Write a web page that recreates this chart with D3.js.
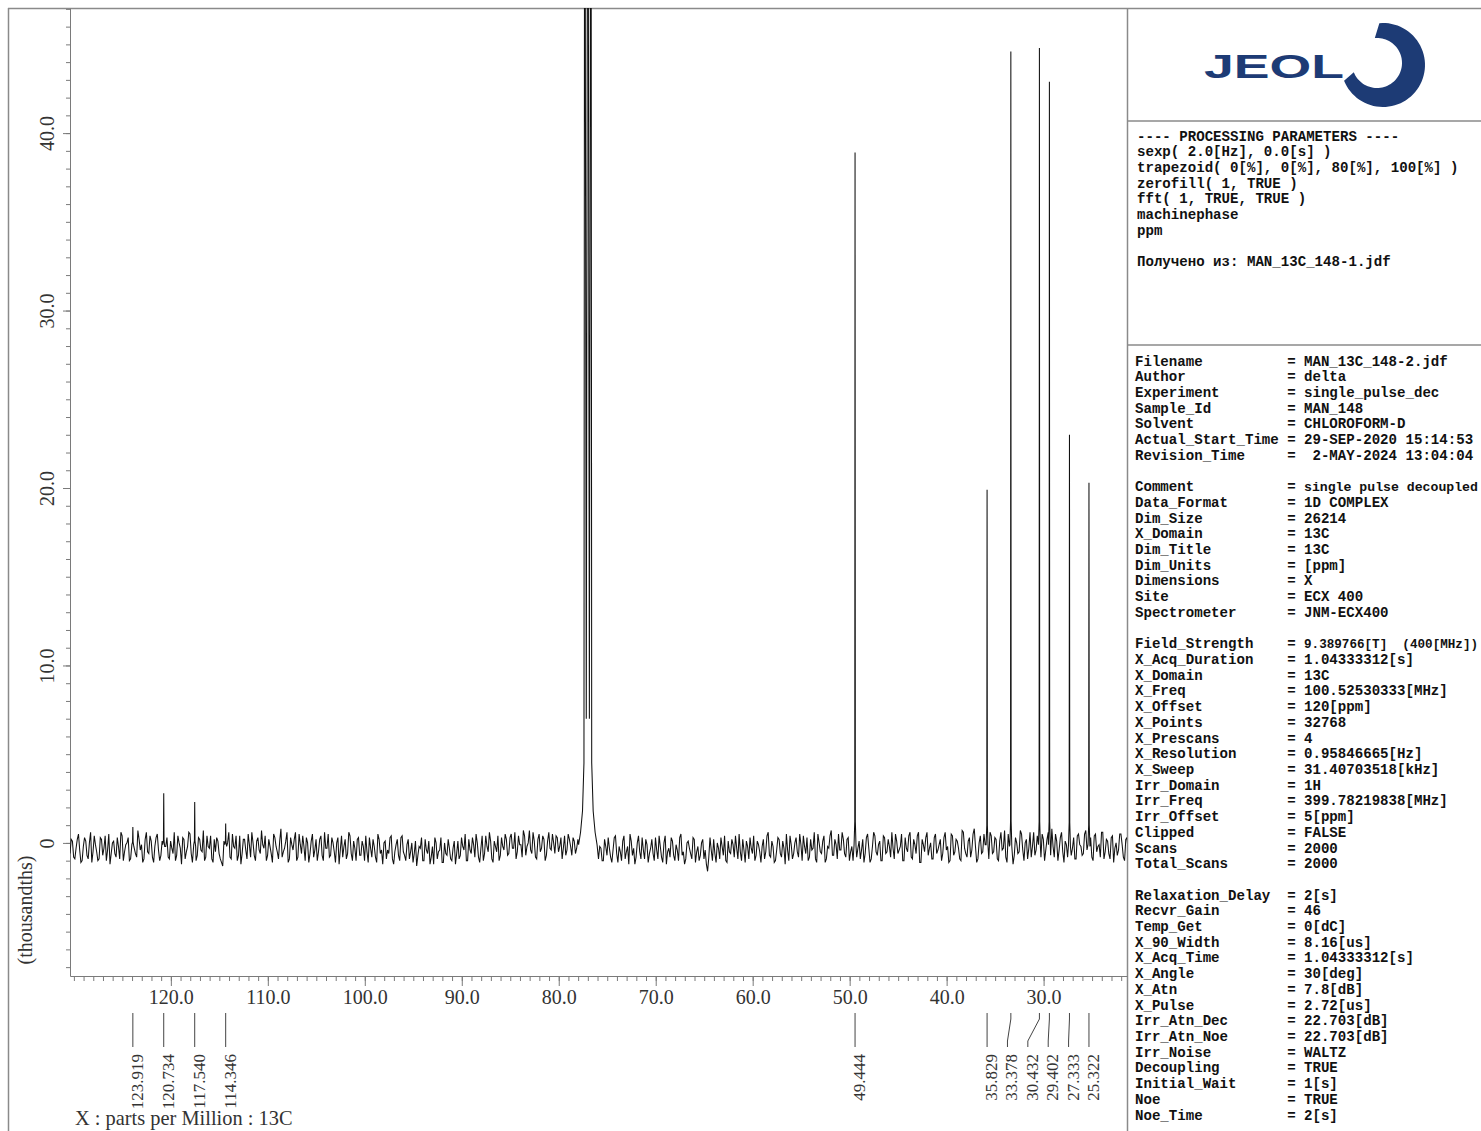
<!DOCTYPE html>
<html><head><meta charset="utf-8">
<script src="https://cdn.jsdelivr.net/npm/d3@7"></script>
<style>body{margin:0;background:#fff} svg{display:block}</style>
</head><body>
<svg id="c" width="1481" height="1131"></svg>
<script>
// ---------- DATA ----------
const xTickValues = [120,110,100,90,80,70,60,50,40,30];
const xTickLabels = ["120.0","110.0","100.0","90.0","80.0","70.0","60.0","50.0","40.0","30.0"];
const yTickValues = [0,10,20,30,40];
const yTickLabels = ["0","10.0","20.0","30.0","40.0"];

const peakPpm     = [123.919,120.734,117.540,114.346,49.444,35.829,33.378,30.432,29.402,27.333,25.322];
const peakLabels  = ["123.919","120.734","117.540","114.346","49.444","35.829","33.378","30.432","29.402","27.333","25.322"];
const peakHeights = [0.9,2.8,2.3,1.1,38.9,19.9,44.6,44.8,42.9,23.0,20.3];

// CDCl3 triplet (off scale) with broad base
const solventPpm     = [77.95,77.75,77.55,77.40,77.32,77.16,77.00,76.84,76.68,76.60,76.45,76.25,76.05];
const solventHeights = [-0.1,0.6,1.8,4.5,70,7.0,70,7.0,70,4.5,1.8,0.6,-0.1];

// baseline noise, sampled on two interleaved ppm grids
const noiseStartPpm = 130.4, noiseStepPpm = 0.25;
const noiseA = [
-0.6,0.1,-0.9,0.2,-0.4,-1.0,0.3,-0.7,0.0,-1.1,0.4,-0.5,-0.9,0.2,-0.3,-1.0,0.5,-0.6,0.1,-0.8,
-0.2,0.6,-1.0,-0.1,0.3,-0.9,0.9,-0.6,0.7,-0.4,-1.1,0.2,-0.5,0.4,-0.8,-0.2,0.5,-1.0,0.1,-0.4,
0.3,-0.9,-0.3,0.6,-0.7,0.0,-1.2,0.2,-0.5,0.6,-0.6,-0.1,-1.0,0.3,-0.4,0.7,-0.8,-0.2,0.4,-1.1,
-0.5,0.1,-0.9,-1.3,-0.4,0.0,-0.8,0.5,-0.3,-1.0,0.4,-0.6,0.2,-0.9,-0.1,0.6,-0.7,0.1,-0.4,0.7,
-0.3,-1.0,0.2,-0.6,0.5,-0.2,-0.9,0.8,-0.5,0.1,-1.1,0.3,-0.4,0.6,-0.8,-0.1,0.4,-1.0,0.0,-0.6,
0.5,-0.4,-1.0,0.2,-0.7,0.6,-0.3,-0.8,0.3,-0.5,0.0,-1.2,0.4,-0.2,-0.9,0.6,-0.6,0.1,-1.0,0.3,
-0.7,-0.2,0.4,-1.1,-0.3,0.2,-0.8,0.5,-0.6,-1.2,0.1,-0.4,0.3,-0.9,-0.5,0.2,-1.0,0.4,-0.7,-0.1,
-0.9,0.0,-0.6,-1.3,-0.2,0.3,-1.0,-0.4,0.1,-0.8,-1.2,0.0,-0.5,0.3,-1.1,-0.6,0.2,-0.9,-0.3,-1.2,
0.1,-0.7,-0.2,0.5,-1.0,-0.4,0.3,-0.8,0.0,-1.1,0.4,-0.6,-0.2,0.6,-0.9,0.1,-0.5,-1.0,0.3,-0.4,
0.2,-0.6,0.5,-0.3,-0.9,0.4,-0.1,0.7,-0.7,0.0,-0.4,0.6,-0.8,0.2,-0.5,0.4,-1.0,0.1,-0.3,0.5,
-0.6,0.3,-0.2,-0.9,0.4,-0.4,0.2,-0.7,0.1,-0.3,0,0,0,0,0,0,0,0,-0.9,-0.3,
-1.0,-0.2,0.3,-0.8,-0.4,0.4,-1.1,-0.5,0.1,-0.9,-0.2,0.5,-0.7,-1.2,0.0,-0.5,0.3,-0.9,-0.1,-0.6,
0.2,-1.0,-0.4,0.4,-0.8,0.0,-1.2,-0.3,0.3,-0.7,-0.1,-1.0,0.5,-0.5,-0.9,0.1,-0.6,0.3,-1.1,-0.2,
-0.7,0.2,-0.4,-1.6,0.3,-1.0,-0.6,0.0,-0.9,-0.2,0.4,-1.1,-0.5,0.2,-0.8,-0.3,0.5,-1.0,-0.4,0.1,
-0.9,-0.3,0.4,-0.7,-0.1,-1.1,0.2,-0.5,0.6,-0.8,-0.2,-1.0,0.3,-0.6,0.1,-1.2,-0.4,0.4,-0.9,0.0,
-0.5,0.5,-1.0,-0.2,0.3,-0.8,-0.4,0.6,-1.1,0.0,-0.6,0.4,-0.9,-0.3,0.7,-0.7,-0.1,0.5,-0.4,0.2,
-0.8,0.3,-0.5,-1.0,0.6,-0.3,-0.9,0.2,-0.6,0.5,-1.1,-0.2,0.4,-0.7,0.1,-1.0,0.3,-0.5,-0.2,0.6,
-0.9,0.1,-0.4,0.5,-1.0,-0.3,0.4,-0.8,0.2,-0.6,0.6,-1.1,-0.1,0.3,-0.7,0.0,-0.9,0.5,-0.4,0.2,
-0.6,0.6,-0.2,-1.0,0.4,-0.5,0.1,-0.9,0.7,-0.3,-0.8,0.3,-0.4,0.8,-1.1,0.0,-0.6,0.5,-0.2,-0.9,
0.4,-0.5,0.2,-1.0,0.6,-0.3,-0.8,0.5,-0.1,-1.2,0.3,-0.6,0.7,-0.4,0.0,-0.9,0.6,-0.2,-0.7,0.4,
-0.3,0.5,-1.0,0.2,-0.5,0.8,-0.8,0.1,-0.4,0.6,-1.1,-0.1,0.4,-0.7,0.3,-0.9,0.5,-0.2,-0.6,0.7,
-0.4,0.3,-1.0,0.5,-0.2,-0.8,0.6,-0.5,0.1,-0.9,0.4,-0.3,-0.7,0.5,-0.1,-1.0,0.3,-0.6,0.2,-0.4
];
const noiseB = [
0.2,-0.8,-0.3,0.5,-1.1,-0.2,0.1,-0.9,0.6,-0.5,-0.1,-1.0,0.3,-0.7,0.4,-0.4,-1.2,0.0,-0.6,0.3,
-0.9,0.4,-0.5,0.0,-1.0,0.5,-0.3,-0.8,0.2,-0.1,-0.9,0.6,-0.6,0.1,-1.1,0.3,-0.4,-0.7,0.5,-0.2,
-0.8,0.1,-0.6,-1.0,0.4,-0.3,0.3,-0.9,-0.2,0.5,-1.1,0.0,-0.7,0.2,-0.5,-1.0,0.4,-0.3,-0.9,0.2,
0.3,-0.6,-1.1,0.1,-0.5,0.6,-0.9,-0.2,0.4,-0.7,-1.2,0.2,-0.4,0.5,-0.8,0.0,-1.0,0.3,-0.6,-0.1,
0.4,-0.7,-0.2,-1.1,0.3,-0.5,0.1,-0.8,-0.3,0.6,-0.9,-0.1,0.2,-1.0,0.5,-0.6,-0.2,0.3,-1.1,0.1,
-0.8,0.2,-0.5,0.4,-1.0,-0.3,0.5,-0.7,0.0,-1.1,0.3,-0.4,-0.8,0.2,-0.6,0.4,-1.0,-0.3,0.2,-0.7,
0.1,-1.0,-0.5,0.3,-0.8,-0.2,-1.1,0.2,-0.4,0.0,-0.9,-0.6,0.4,-1.2,-0.1,-0.7,0.3,-0.5,-1.0,0.2,
-0.5,-1.1,0.1,-0.7,-0.3,-1.0,0.2,-0.6,-1.2,-0.2,0.3,-0.9,-0.4,-1.1,0.0,-0.7,-0.3,-1.0,0.1,-0.6,
-0.9,0.3,-0.4,-1.0,0.2,-0.6,-0.1,0.5,-0.8,-0.3,-1.0,0.4,-0.5,0.1,-1.1,-0.2,0.4,-0.7,-0.2,0.5,
-0.7,0.3,-0.3,0.6,-0.5,-0.1,-0.8,0.4,-0.2,0.7,-0.6,0.1,-0.9,0.5,-0.3,0.2,-0.7,0.6,-0.4,0.0,
0.4,-0.5,0.3,-0.3,-0.7,0.5,-0.2,0.3,-0.6,0.2,0,0,0,0,0,0,0,0,-0.2,-1.0,
0.2,-0.7,-0.3,-1.1,0.3,-0.6,-0.2,-1.0,0.4,-0.5,-1.2,0.1,-0.3,-0.8,0.4,-0.9,-0.4,0.2,-1.1,-0.3,
-0.6,0.3,-0.9,-0.2,-1.1,0.4,-0.5,-0.8,0.1,-1.0,-0.4,0.3,-0.7,-1.2,0.0,-0.3,-0.9,0.2,-0.5,-1.0,
0.0,-0.9,-1.2,-0.8,-0.4,0.2,-1.1,-0.3,0.3,-0.7,-1.0,0.1,-0.6,-0.1,0.4,-0.9,-0.5,0.2,-1.1,-0.2,
0.3,-0.6,-1.0,0.1,-0.5,-0.2,-0.9,0.4,-0.7,0.1,-1.1,-0.4,0.2,-0.8,-0.3,0.5,-1.0,-0.1,-0.6,0.3,
-0.8,-0.1,0.4,-0.6,-1.0,0.2,-0.3,-0.9,0.5,-0.5,0.1,-1.1,-0.2,0.4,-0.7,0.2,-0.9,-0.4,0.6,-0.6,
0.2,-1.0,-0.2,0.5,-0.8,0.1,-0.4,-1.1,0.3,-0.3,-0.9,0.6,-0.5,-0.1,-1.0,0.4,-0.6,0.2,-0.8,-0.3,
0.5,-0.6,-0.2,-1.0,0.3,-0.5,0.6,-0.9,-0.1,0.4,-1.1,0.2,-0.5,0.6,-0.3,-0.9,0.3,-0.6,-0.1,-1.0,
0.3,-0.4,-1.1,0.5,-0.7,0.2,-0.3,-1.0,0.6,-0.6,0.1,-0.8,0.5,-0.2,-0.9,0.4,-0.5,-0.1,-1.0,0.6,
-0.6,0.3,-0.9,0.1,-0.4,0.7,-1.1,-0.2,0.4,-0.7,0.0,-0.5,0.5,-1.0,0.2,-0.3,-0.8,0.6,-0.4,-0.1,
-0.8,0.2,-0.4,0.6,-0.7,-0.2,0.5,-1.0,0.3,-0.5,0.1,-0.8,0.6,-0.3,-0.9,0.4,-0.1,-0.7,0.5,-0.4,
0.1,-0.8,0.4,-0.5,-0.1,0.6,-0.9,0.2,-0.6,0.3,-1.1,0.0,-0.4,0.5,-0.8,0.2,-0.5,-1.0,0.4,-0.2
];

const procLines = [
"---- PROCESSING PARAMETERS ----",
"sexp( 2.0[Hz], 0.0[s] )",
"trapezoid( 0[%], 0[%], 80[%], 100[%] )",
"zerofill( 1, TRUE )",
"fft( 1, TRUE, TRUE )",
"machinephase",
"ppm",
"",
"Получено из: MAN_13C_148-1.jdf"
];
const paramKeys = ["Filename","Author","Experiment","Sample_Id","Solvent","Actual_Start_Time","Revision_Time","",
"Comment","Data_Format","Dim_Size","X_Domain","Dim_Title","Dim_Units","Dimensions","Site","Spectrometer","",
"Field_Strength","X_Acq_Duration","X_Domain","X_Freq","X_Offset","X_Points","X_Prescans","X_Resolution","X_Sweep",
"Irr_Domain","Irr_Freq","Irr_Offset","Clipped","Scans","Total_Scans","",
"Relaxation_Delay","Recvr_Gain","Temp_Get","X_90_Width","X_Acq_Time","X_Angle","X_Atn","X_Pulse",
"Irr_Atn_Dec","Irr_Atn_Noe","Irr_Noise","Decoupling","Initial_Wait","Noe","Noe_Time"];
const paramValues = ["MAN_13C_148-2.jdf","delta","single_pulse_dec","MAN_148","CHLOROFORM-D","29-SEP-2020 15:14:53"," 2-MAY-2024 13:04:04","",
"single pulse decoupled","1D COMPLEX","26214","13C","13C","[ppm]","X","ECX 400","JNM-ECX400","",
"9.389766[T]  (400[MHz])","1.04333312[s]","13C","100.52530333[MHz]","120[ppm]","32768","4","0.95846665[Hz]","31.40703518[kHz]",
"1H","399.78219838[MHz]","5[ppm]","FALSE","2000","2000","",
"2[s]","46","0[dC]","8.16[us]","1.04333312[s]","30[deg]","7.8[dB]","2.72[us]",
"22.703[dB]","22.703[dB]","WALTZ","TRUE","1[s]","TRUE","2[s]"];

// ---------- LAYOUT ----------
const svg = d3.select("#c");
const L = 70, R = 1127, T = 8, B = 976;
const x = d3.scaleLinear().domain([130.4, 21.4]).range([L, R]);
const y = d3.scaleLinear().domain([-7.5, 47.05]).range([B, T]);
const serif = "'Liberation Serif','Times New Roman',serif";
const mono = "'Liberation Mono','Courier New',monospace";
const gridGrey = "#8a8a8a";

// outer frame
svg.append("line").attr("x1",8).attr("x2",1481).attr("y1",8.5).attr("y2",8.5).attr("stroke",gridGrey).attr("stroke-width",1.5);
svg.append("line").attr("x1",8.5).attr("x2",8.5).attr("y1",8).attr("y2",1131).attr("stroke",gridGrey).attr("stroke-width",1.5);
svg.append("line").attr("x1",R+0.5).attr("x2",R+0.5).attr("y1",8).attr("y2",1131).attr("stroke",gridGrey).attr("stroke-width",1.5);
svg.append("line").attr("x1",R).attr("x2",1481).attr("y1",121).attr("y2",121).attr("stroke",gridGrey).attr("stroke-width",1.5);
svg.append("line").attr("x1",R).attr("x2",1481).attr("y1",345).attr("y2",345).attr("stroke",gridGrey).attr("stroke-width",1.5);

// axes
const minorX = d3.range(130, 21, -1);
svg.append("g").attr("transform",`translate(0,${B})`)
  .call(d3.axisBottom(x).tickValues(minorX).tickSize(5).tickSizeOuter(0).tickFormat(""));
const gxMajor = svg.append("g").attr("transform",`translate(0,${B})`)
  .call(d3.axisBottom(x).tickValues(xTickValues).tickSize(10).tickSizeOuter(0)
    .tickFormat((d,i)=>xTickLabels[i]));
gxMajor.select(".domain").remove();
gxMajor.selectAll("text").attr("y",28).attr("dy",0).attr("font-family",serif).attr("font-size",20).attr("fill","#333");

const minorY = d3.range(-7, 48, 1);
svg.append("g").attr("transform",`translate(${L},0)`)
  .call(d3.axisLeft(y).tickValues(minorY).tickSize(4).tickSizeOuter(0).tickFormat(""));
const gyMajor = svg.append("g").attr("transform",`translate(${L},0)`)
  .call(d3.axisLeft(y).tickValues(yTickValues).tickSize(7).tickSizeOuter(0).tickFormat((d,i)=>yTickLabels[i]));
gyMajor.select(".domain").remove();
gyMajor.selectAll("text")
  .attr("x",0).attr("dy",0)
  .attr("transform", "translate(-23,0) rotate(-90)")
  .attr("text-anchor","middle").attr("dominant-baseline","central")
  .attr("font-family",serif).attr("font-size",20).attr("fill","#333");
svg.selectAll(".domain, .tick line").attr("stroke","#7a7a7a");

// axis titles
svg.append("text").attr("transform","translate(25,910) rotate(-90)").attr("text-anchor","middle")
  .attr("dominant-baseline","central").attr("font-family",serif).attr("font-size",20).attr("fill","#333").text("(thousandths)");
svg.append("text").attr("x",75).attr("y",1125).attr("font-family",serif).attr("font-size",20.4).attr("fill","#333")
  .text("X : parts per Million : 13C");

// spectrum
svg.append("clipPath").attr("id","clip").append("rect").attr("x",L).attr("y",T).attr("width",R-L).attr("height",B-T);
const pts = [];
const nearPeak = p => peakPpm.some(q => Math.abs(q-p) < 0.12);
function addNoise(arr, start){
  arr.forEach((v,i)=>{
    const p = start - i*noiseStepPpm;
    if (p < 78.0 && p > 76.0) return;
    if (nearPeak(p)) return;
    pts.push([p, v]);
  });
}
addNoise(noiseA, noiseStartPpm);
addNoise(noiseB, noiseStartPpm - noiseStepPpm/2);
solventPpm.forEach((p,i)=>pts.push([p, solventHeights[i]]));
peakPpm.forEach((p,i)=>{
  const h = peakHeights[i];
  const shoulder = Math.min(1.2, h*0.05);
  pts.push([p+0.10, -0.1]);
  pts.push([p+0.03, shoulder]);
  pts.push([p, h]);
  pts.push([p-0.03, shoulder]);
  pts.push([p-0.10, -0.2]);
});
pts.sort((a,b)=>b[0]-a[0]);
svg.append("path").attr("clip-path","url(#clip)")
  .attr("d", d3.line().x(d=>x(d[0])).y(d=>y(d[1]))(pts))
  .attr("fill","none").attr("stroke","#111").attr("stroke-width",1.05);

// peak labels with leader lines
const minGap = 20.3, clusterGap = 30;
const px = peakPpm.map(p=>x(p));
const order = d3.range(px.length).sort((a,b)=>px[a]-px[b]);
const labelX = px.slice();
let clusters = [], cur = [order[0]];
for (let k=1;k<order.length;k++){
  if (px[order[k]] - px[order[k-1]] < clusterGap) cur.push(order[k]); else { clusters.push(cur); cur=[order[k]]; }
}
clusters.push(cur);
clusters.forEach(c=>{
  if (c.length<2) return;
  const a = px[c[0]], b = px[c[c.length-1]];
  const step = Math.max(minGap, (b-a)/(c.length-1));
  const start = (a+b)/2 - step*(c.length-1)/2;
  c.forEach((idx,j)=>labelX[idx] = start + j*step);
});
const lg = svg.append("g");
peakPpm.forEach((p,i)=>{
  const x0 = px[i], x1 = labelX[i];
  lg.append("path").attr("d",`M${x0},1013 L${x0},1019 L${x1},1041 L${x1},1047`)
    .attr("fill","none").attr("stroke","#444").attr("stroke-width",1);
  lg.append("text").attr("transform",`translate(${x1+4.5},1054) rotate(-90)`)
    .attr("text-anchor","end").attr("dominant-baseline","central")
    .attr("font-family",serif).attr("font-size",17).attr("fill","#333").text(peakLabels[i]);
});

// JEOL logo
const logo = svg.append("g").attr("fill","#1d3b75");
logo.append("text").attr("x",1204).attr("y",78).attr("font-family","'Liberation Sans',Arial,sans-serif")
  .attr("font-weight",900).attr("font-size",33)
  .attr("textLength",140).attr("lengthAdjust","spacingAndGlyphs").text("JEOL");
(function(){
  const cx=1383, cy=65, Ro=42, ci=[1377,63], ri=25;
  const a0=-95*Math.PI/180, a1=158*Math.PI/180, n=60;
  const outer=[], inner=[];
  for(let k=0;k<=n;k++){
    const a=a0+(a1-a0)*k/n;
    outer.push([cx+Ro*Math.cos(a), cy+Ro*Math.sin(a)]);
    inner.push([ci[0]+ri*Math.cos(a), ci[1]+ri*Math.sin(a)]);
  }
  const poly = outer.concat(inner.reverse());
  logo.append("path").attr("d", d3.line()(poly)+"Z");
})();

// processing / parameter text (monospace, spaces kept as no-break spaces)
const nb = s => s.replace(/ /g, "\u00A0");
const fs = 14.1;
const tp = svg.append("g").attr("font-family",mono).attr("font-weight","bold").attr("font-size",fs).attr("fill","#111");
procLines.forEach((s,i)=>{
  tp.append("text").attr("x",1137).attr("y",140.5+i*15.71).text(nb(s));
});
const valX = 1304, valMax = 1478 - valX;
paramKeys.forEach((k,i)=>{
  if(!k) return;
  const yy = 365.5+i*15.71;
  tp.append("text").attr("x",1135).attr("y",yy).text(nb(k.padEnd(18," ")+"="));
  const t = tp.append("text").attr("x",valX).attr("y",yy).text(nb(paramValues[i]));
  const w = t.node().getComputedTextLength();
  if (w > valMax) t.attr("font-size", fs*valMax/w);
});
</script>
</body></html>
